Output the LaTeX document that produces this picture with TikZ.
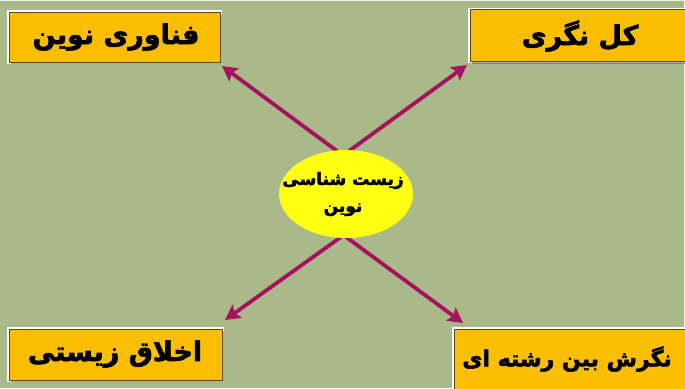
\documentclass[tikz,border=0pt]{standalone}
\usepackage{fontspec}
\TeXXeTstate=1
\newfontfamily\arabicfont[Script=Arabic, BoldFeatures={FakeBold=2.5}]{DejaVu Sans}
\usetikzlibrary{arrows.meta,shapes.geometric,shadows}

\definecolor{slidebg}{RGB}{169,185,138}
\definecolor{boxfill}{RGB}{250,190,0}
\definecolor{boxline}{RGB}{90,75,30}
\definecolor{arrowcol}{RGB}{165,18,95}
\definecolor{hubfill}{RGB}{255,255,20}

\tikzset{
  topicbox/.style={
    rectangle, fill=boxfill, draw=boxline, line width=0.7pt,
    preaction={draw=white, line width=3.5pt},
    drop shadow={shadow xshift=2pt, shadow yshift=-2pt, opacity=0.45, fill=black!70},
    inner sep=0pt
  },
  topictext/.style={font=\arabicfont\bfseries\fontsize{27}{31}\selectfont, inner sep=0pt},
  hub/.style={
    ellipse, fill=hubfill, draw=none, inner sep=0pt,
    minimum width=134pt, minimum height=88pt
  },
  hubtext/.style={
    font=\arabicfont\bfseries\fontsize{17}{27}\selectfont, align=center, inner sep=0pt
  },
  linkarrow/.style={
    draw=arrowcol, line width=3.8pt,
    -{Stealth[length=15pt,width=16pt,inset=3pt]}
  }
}

\begin{document}
\begin{tikzpicture}[x=1pt,y=-1pt]
  % slide background and its light edge
  \fill[slidebg] (0,0) rectangle (685,388);
  \useasboundingbox (0,0) rectangle (685,388);
  \draw[white!80!slidebg, line width=1.2pt] (0,0.6) -- (684.4,0.6) -- (684.4,388);

  % the four topic boxes
  \node[topicbox, minimum width=211pt, minimum height=50pt] (tl) at (114.5,37) {};
  \node[topicbox, minimum width=222pt, minimum height=52pt] (tr) at (581,35.5) {};
  \node[topicbox, minimum width=213pt, minimum height=51pt] (bl) at (115.5,354.5) {};
  \node[topicbox, minimum width=236pt, minimum height=62pt] (br) at (572,360) {};

  \node[topictext] (tlt) at (116,37) {\beginR فناوری نوین\endR};
  \node[topictext] (trt) at (580,36) {\beginR کل نگری\endR};
  \node[topictext] (blt) at (115,354) {\beginR اخلاق زیستی\endR};
  \node[topictext, font=\arabicfont\bfseries\fontsize{22}{26}\selectfont] (brt)
    at (567,359) {\beginR نگرش بین رشته ای\endR};

  % arrow starts, just inside the central ellipse
  \coordinate (s1) at (337,151);
  \coordinate (s2) at (349,151);
  \coordinate (s3) at (341,237);
  \coordinate (s4) at (346,237);

  \coordinate (e1) at (222,66);
  \coordinate (e2) at (467,65);
  \coordinate (e3) at (225,320);
  \coordinate (e4) at (463,323);

  \draw[linkarrow] (s1) -- (e1);
  \draw[linkarrow] (s2) -- (e2);
  \draw[linkarrow] (s3) -- (e3);
  \draw[linkarrow] (s4) -- (e4);

  % central topic
  \node[hub] (c) at (346,194) {};
  \node[hubtext] (ct) at (343,194)
    {\beginR زیست شناسی\endR\\\beginR نوین\endR};
\end{tikzpicture}
\end{document}
